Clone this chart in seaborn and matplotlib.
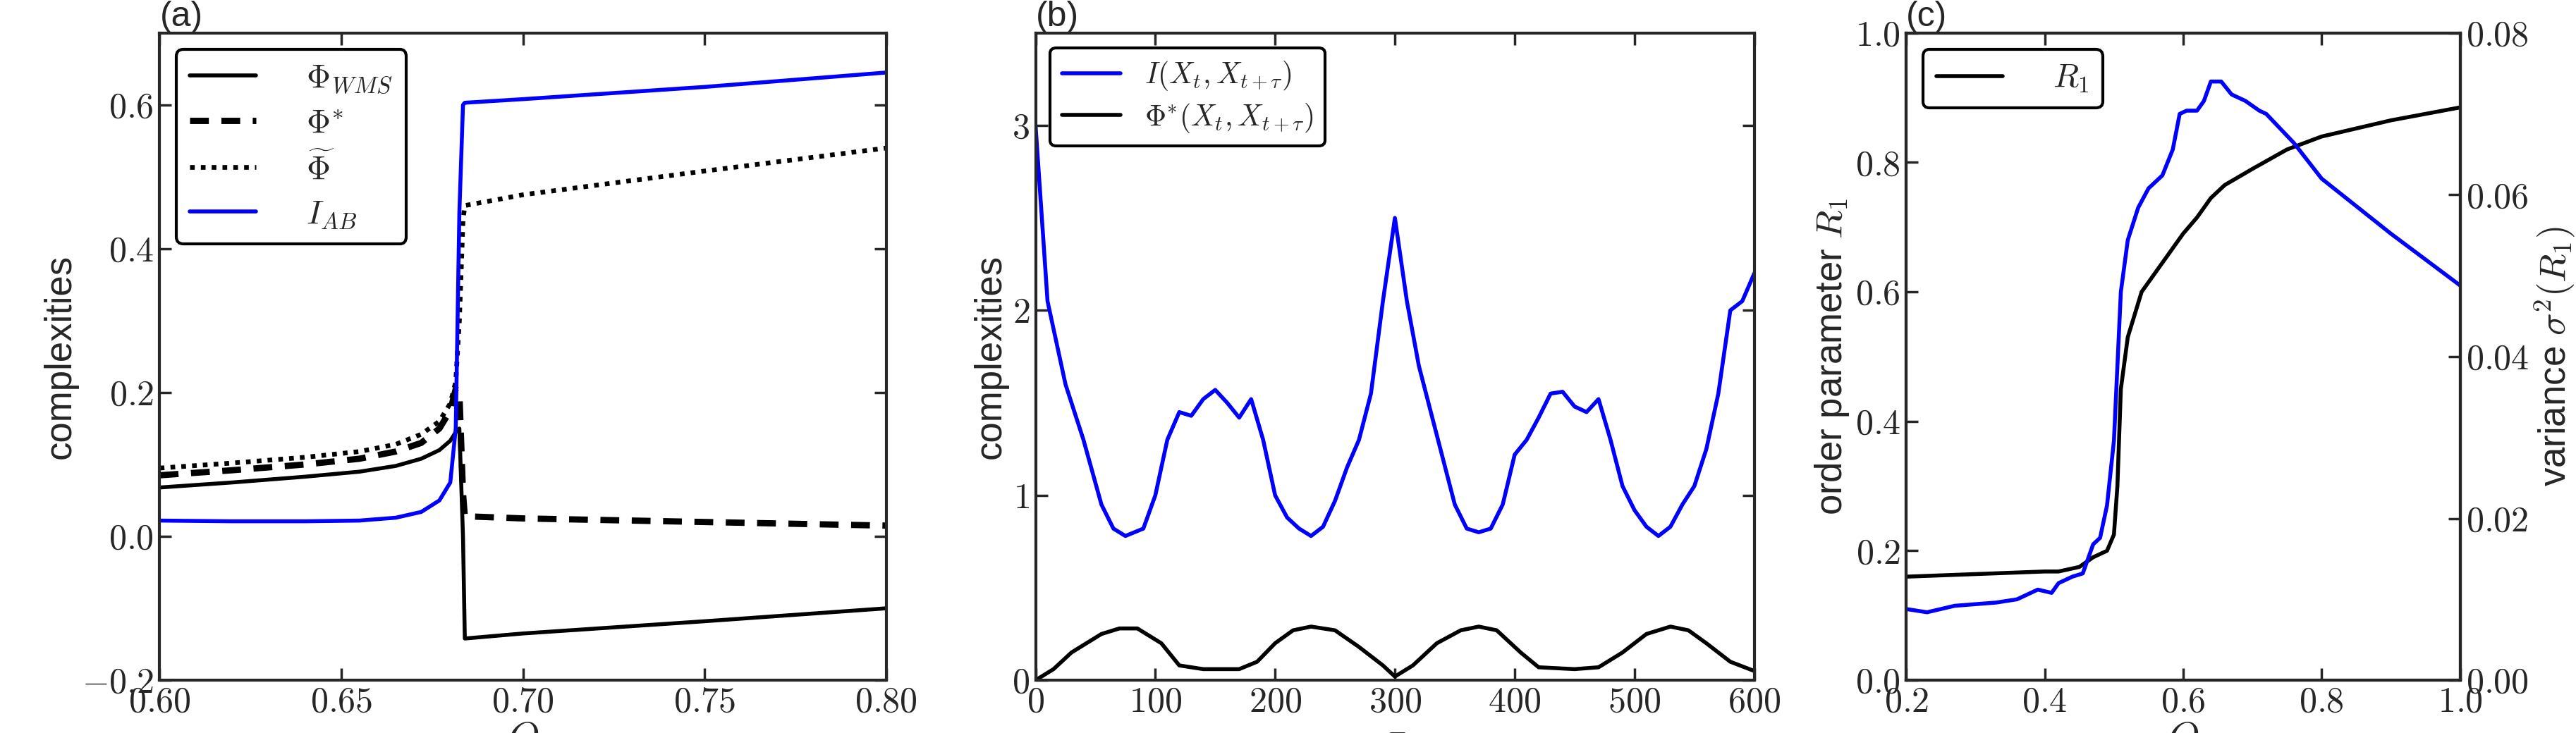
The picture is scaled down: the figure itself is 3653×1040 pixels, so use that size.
import matplotlib
matplotlib.use('Agg')
import matplotlib.pyplot as plt
import seaborn as sns
import pandas as pd
from matplotlib.ticker import FuncFormatter

# panel (a)
q_a = [0.600, 0.620, 0.640, 0.655, 0.665, 0.672, 0.677, 0.680, 0.6815, 0.6825, 0.6835, 0.684, 0.700, 0.750, 0.800]
phi_wms = [0.068, 0.075, 0.083, 0.090, 0.098, 0.108, 0.120, 0.133, 0.145, 0.150, 0.000, -0.142, -0.135, -0.118, -0.100]
phi_star = [0.085, 0.092, 0.100, 0.108, 0.118, 0.130, 0.150, 0.175, 0.205, 0.200, 0.060, 0.028, 0.025, 0.020, 0.015]
phi_tilde = [0.095, 0.102, 0.110, 0.118, 0.128, 0.142, 0.160, 0.185, 0.215, 0.300, 0.440, 0.460, 0.475, 0.508, 0.540]
i_ab = [0.022, 0.021, 0.021, 0.022, 0.026, 0.034, 0.050, 0.075, 0.150, 0.450, 0.600, 0.603, 0.608, 0.625, 0.645]

# panel (b)
tau = [0, 10, 25, 40, 55, 65, 75, 90, 100, 110, 120, 130, 140, 150, 160, 170, 180, 190, 200,
       210, 220, 230, 240, 250, 260, 270, 280, 290, 300, 310, 320, 330, 340, 350, 360, 370, 380,
       390, 400, 410, 420, 430, 440, 450, 460, 470, 480, 490, 500, 510, 520, 530, 540, 550, 560,
       570, 580, 590, 600]
i_tau = [3.0, 2.05, 1.6, 1.3, 0.95, 0.82, 0.78, 0.82, 1.0, 1.3, 1.45, 1.43, 1.52, 1.57, 1.5, 1.42,
         1.52, 1.3, 1.0, 0.88, 0.82, 0.78, 0.83, 0.97, 1.15, 1.3, 1.55, 2.05, 2.5, 2.05, 1.7, 1.45,
         1.2, 0.95, 0.82, 0.8, 0.82, 0.95, 1.22, 1.3, 1.42, 1.55, 1.56, 1.48, 1.45, 1.52, 1.3, 1.05,
         0.92, 0.83, 0.78, 0.83, 0.95, 1.05, 1.25, 1.55, 2.0, 2.05, 2.2]
tau_phi = [0, 15, 30, 55, 70, 85, 105, 120, 140, 170, 185, 200, 215, 230, 250, 270, 290, 300, 315,
           335, 355, 370, 385, 405, 420, 450, 470, 490, 510, 530, 545, 560, 580, 600]
phi_tau = [0.0, 0.06, 0.15, 0.25, 0.28, 0.28, 0.2, 0.08, 0.06, 0.06, 0.1, 0.2, 0.27, 0.29, 0.27,
           0.18, 0.08, 0.02, 0.08, 0.2, 0.27, 0.29, 0.27, 0.15, 0.07, 0.06, 0.07, 0.15, 0.25, 0.29,
           0.27, 0.2, 0.1, 0.05]

# panel (c)
q_r = [0.2, 0.4, 0.42, 0.45, 0.47, 0.49, 0.5, 0.505, 0.51, 0.52, 0.54, 0.56, 0.58, 0.6, 0.62,
       0.64, 0.66, 0.7, 0.75, 0.8, 0.9, 1.0]
r1 = [0.16, 0.168, 0.168, 0.175, 0.19, 0.2, 0.225, 0.3, 0.45, 0.53, 0.6, 0.63, 0.66, 0.69, 0.715,
      0.745, 0.765, 0.79, 0.82, 0.84, 0.865, 0.885]
q_v = [0.2, 0.23, 0.27, 0.33, 0.36, 0.39, 0.41, 0.42, 0.44, 0.455, 0.47, 0.48, 0.49, 0.5, 0.51,
       0.52, 0.535, 0.55, 0.57, 0.585, 0.595, 0.605, 0.62, 0.63, 0.64, 0.655, 0.67, 0.69, 0.71,
       0.72, 0.76, 0.8, 0.9, 1.0]
var_r1 = [0.0088, 0.0084, 0.0092, 0.0096, 0.0100, 0.0112, 0.0108, 0.0120, 0.0128, 0.0132, 0.0168,
          0.0176, 0.0216, 0.0296, 0.0480, 0.0544, 0.0584, 0.0608, 0.0624, 0.0656, 0.0700, 0.0704,
          0.0704, 0.0716, 0.0740, 0.0740, 0.0724, 0.0716, 0.0704, 0.0700, 0.0664, 0.0620, 0.0552,
          0.0488]

sns.set_style('ticks')
plt.rcParams['font.family'] = ['Liberation Sans', 'DejaVu Sans']
plt.rcParams['mathtext.fontset'] = 'cm'
plt.rcParams['xtick.direction'] = 'in'
plt.rcParams['ytick.direction'] = 'in'
plt.rcParams['xtick.top'] = True
plt.rcParams['ytick.right'] = True
plt.rcParams['xtick.major.size'] = 12
plt.rcParams['ytick.major.size'] = 12
plt.rcParams['axes.linewidth'] = 3

fs_tick, fs_lab = 36, 38
LW = 4

fig = plt.figure(figsize=(36.53, 10.4), dpi=100)
ax1 = fig.add_axes([0.062, 0.072, 0.282, 0.883])
ax2 = fig.add_axes([0.402, 0.072, 0.279, 0.883])
ax3 = fig.add_axes([0.740, 0.072, 0.215, 0.883])

def boxed_legend(ax, **kw):
    leg = ax.legend(loc='upper left', fancybox=True, edgecolor='black', framealpha=1, **kw)
    leg.get_frame().set_linewidth(3)

da = pd.DataFrame({'Q': q_a, 'wms': phi_wms, 'star': phi_star, 'tilde': phi_tilde, 'iab': i_ab})
sns.lineplot(data=da, x='Q', y='wms', ax=ax1, color='black', lw=LW, label=r'$\Phi_{WMS}$')
sns.lineplot(data=da, x='Q', y='star', ax=ax1, color='black', lw=LW * 1.6, ls=(0, (3, 2)), label=r'$\Phi^{*}$')
sns.lineplot(data=da, x='Q', y='tilde', ax=ax1, color='black', lw=LW * 1.2, ls=(0, (1, 1.3)), label=r'$\widetilde{\Phi}$')
sns.lineplot(data=da, x='Q', y='iab', ax=ax1, color='blue', lw=LW, label=r'$I_{AB}$')
ax1.set_xlim(0.6, 0.8)
ax1.set_ylim(-0.2, 0.7)
ax1.set_xticks([0.6, 0.65, 0.7, 0.75, 0.8])
ax1.set_yticks([-0.2, 0.0, 0.2, 0.4, 0.6])
ax1.xaxis.set_major_formatter(FuncFormatter(lambda v, p: r'$%.2f$' % v))
ax1.yaxis.set_major_formatter(FuncFormatter(lambda v, p: r'$%.1f$' % v))
ax1.set_xlabel(r'$Q$', fontsize=fs_lab + 4, labelpad=2)
ax1.set_ylabel('complexities', fontsize=fs_lab)
boxed_legend(ax1, fontsize=fs_lab - 4, handlelength=2.0, handletextpad=1.5, labelspacing=0.4)

db = pd.DataFrame({'tau': tau, 'I': i_tau})
dp = pd.DataFrame({'tau': tau_phi, 'phi': phi_tau})
sns.lineplot(data=db, x='tau', y='I', ax=ax2, color='blue', lw=LW, label=r'$I(X_t,X_{t+\tau})$')
sns.lineplot(data=dp, x='tau', y='phi', ax=ax2, color='black', lw=LW, label=r'$\Phi^{*}(X_t,X_{t+\tau})$')
ax2.set_xlim(0, 600)
ax2.set_ylim(0, 3.5)
ax2.set_yticks([0, 1, 2, 3])
ax2.xaxis.set_major_formatter(FuncFormatter(lambda v, p: r'$%d$' % v))
ax2.yaxis.set_major_formatter(FuncFormatter(lambda v, p: r'$%d$' % v))
ax2.set_xlabel(r'$\tau$', fontsize=fs_lab + 4, labelpad=2)
ax2.set_ylabel('complexities', fontsize=fs_lab)
boxed_legend(ax2, fontsize=fs_lab - 8, handlelength=2.0, labelspacing=0.3)

dr = pd.DataFrame({'Q': q_r, 'R1': r1})
dv = pd.DataFrame({'Q': q_v, 'var': var_r1})
sns.lineplot(data=dr, x='Q', y='R1', ax=ax3, color='black', lw=LW, label=r'$R_1$')
ax3.set_xlim(0.2, 1.0)
ax3.set_ylim(0, 1.0)
ax3.set_xticks([0.2, 0.4, 0.6, 0.8, 1.0])
ax3.set_yticks([0, 0.2, 0.4, 0.6, 0.8, 1.0])
ax3.xaxis.set_major_formatter(FuncFormatter(lambda v, p: r'$%.1f$' % v))
ax3.yaxis.set_major_formatter(FuncFormatter(lambda v, p: r'$%.1f$' % v))
ax3.set_xlabel(r'$Q$', fontsize=fs_lab + 4, labelpad=2)
ax3.set_ylabel(r'order parameter $R_1$', fontsize=fs_lab)
boxed_legend(ax3, fontsize=fs_lab - 4, handlelength=2.0, handletextpad=1.5)
ax4 = ax3.twinx()
sns.lineplot(data=dv, x='Q', y='var', ax=ax4, color='blue', lw=LW, legend=False)
ax4.set_ylim(0, 0.08)
ax4.set_yticks([0, 0.02, 0.04, 0.06, 0.08])
ax4.yaxis.set_major_formatter(FuncFormatter(lambda v, p: r'$%.2f$' % v))
ax4.set_ylabel(r'variance $\sigma^2(R_1)$', fontsize=fs_lab)
ax4.tick_params(labelsize=fs_tick, width=2.5, pad=6)
ax4.spines[:].set_linewidth(3)

for ax, tag in [(ax1, '(a)'), (ax2, '(b)'), (ax3, '(c)')]:
    ax.tick_params(labelsize=fs_tick, width=2.5, pad=6)
    ax.text(0.0, 1.0, tag, transform=ax.transAxes, fontsize=fs_lab - 2, ha='left', va='bottom')
    for s in ax.spines.values():
        s.set_visible(True)
        s.set_linewidth(3)

fig.savefig('out.png', dpi=100)
